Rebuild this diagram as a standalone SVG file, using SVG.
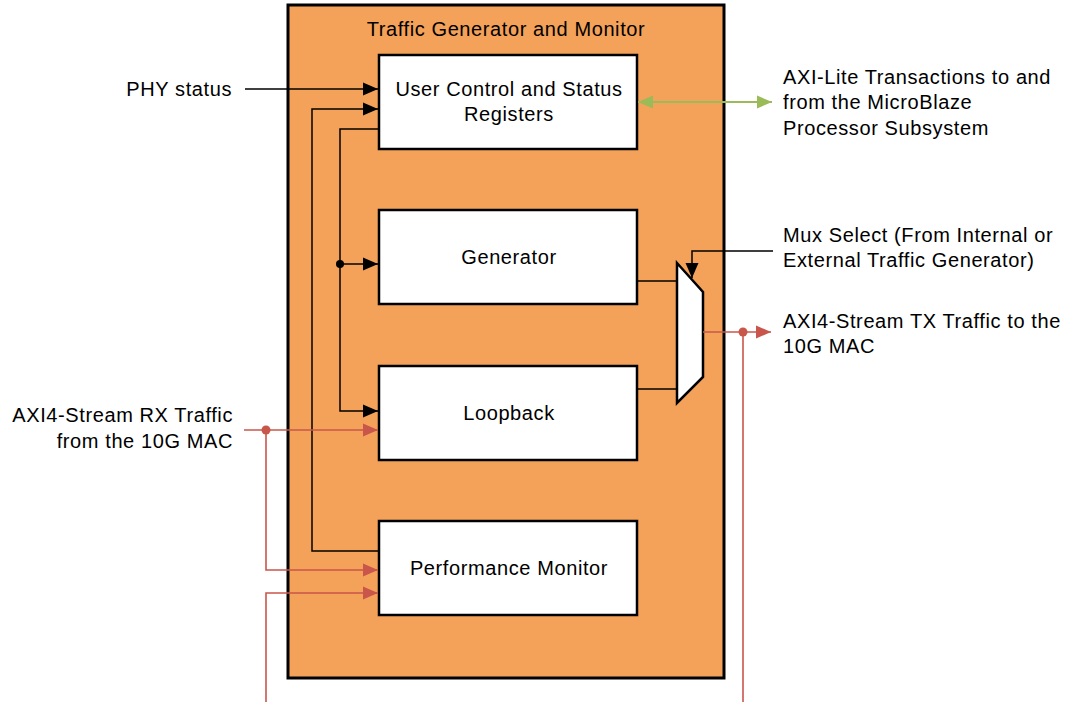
<svg xmlns="http://www.w3.org/2000/svg" width="1066" height="702" viewBox="0 0 1066 702">
<style>
text{font-family:"Liberation Sans",Arial,sans-serif;font-size:20px;letter-spacing:0.6px;fill:#000}
.box{fill:#fff;stroke:#000;stroke-width:2.5}
.blk{fill:none;stroke:#000;stroke-width:1.5}
.red{fill:none;stroke:#C9564B;stroke-width:1.6}
.grn{fill:none;stroke:#9BBB59;stroke-width:2}
.c{text-anchor:middle}
.r{text-anchor:end}
</style>
<defs>
<marker id="ab" markerUnits="userSpaceOnUse" markerWidth="16" markerHeight="14" refX="15" refY="7" orient="auto"><path d="M0,0.5 L15,7 L0,13.5 z" fill="#000"/></marker>
<marker id="ar" markerUnits="userSpaceOnUse" markerWidth="16" markerHeight="14" refX="15" refY="7" orient="auto"><path d="M0,0.5 L15,7 L0,13.5 z" fill="#C9564B"/></marker>
<marker id="ag" markerUnits="userSpaceOnUse" markerWidth="16" markerHeight="14" refX="15" refY="7" orient="auto-start-reverse"><path d="M0,0.5 L15,7 L0,13.5 z" fill="#9BBB59"/></marker>
</defs>
<g id="container">
<rect x="288" y="5" width="436" height="673" fill="#F4A259" stroke="#000" stroke-width="3"/>
<text class="c" x="506" y="36">Traffic Generator and Monitor</text>
</g>
<g id="ucsr">
<rect class="box" x="379" y="55" width="258" height="94"/>
<text class="c" x="509" y="96">User Control and Status</text>
<text class="c" x="509" y="121">Registers</text>
</g>
<g id="generator">
<rect class="box" x="379" y="210" width="258" height="94"/>
<text class="c" x="509" y="264">Generator</text>
</g>
<g id="loopback">
<rect class="box" x="379" y="366" width="258" height="94"/>
<text class="c" x="509" y="420">Loopback</text>
</g>
<g id="perfmon">
<rect class="box" x="379" y="521" width="258" height="94"/>
<text class="c" x="509" y="575">Performance Monitor</text>
</g>
<g id="mux">
<path d="M677,263 L703,292 L703,377 L677,403 z" fill="#fff" stroke="#000" stroke-width="2.5"/>
</g>
<g id="labels">
<text class="r" x="232" y="96">PHY status</text>
<text x="783" y="84">AXI-Lite Transactions to and</text>
<text x="783" y="109">from the MicroBlaze</text>
<text x="783" y="135">Processor Subsystem</text>
<text x="783" y="242">Mux Select (From Internal or</text>
<text x="783" y="267">External Traffic Generator)</text>
<text x="783" y="328">AXI4-Stream TX Traffic to the</text>
<text x="783" y="353">10G MAC</text>
<text class="r" x="233" y="422">AXI4-Stream RX Traffic</text>
<text class="r" x="233" y="448">from the 10G MAC</text>
</g>
<g id="connectors">
<path class="blk" d="M245,89 L378,89" marker-end="url(#ab)"/>
<path class="blk" d="M379,551 L312,551 L312,109 L378,109" marker-end="url(#ab)"/>
<path class="blk" d="M379,129 L340,129 L340,411 L378,411" marker-end="url(#ab)"/>
<path class="blk" d="M340,264 L378,264" marker-end="url(#ab)"/>
<circle cx="340" cy="264" r="4" fill="#000"/>
<path class="blk" d="M637,281 L677,281"/>
<path class="blk" d="M637,389 L677,389"/>
<path class="blk" d="M773,251 L692,251 L692,278" marker-end="url(#ab)"/>
<path class="grn" d="M638,102 L772,102" marker-start="url(#ag)" marker-end="url(#ag)"/>
<path class="red" d="M703,332 L771,332" marker-end="url(#ar)"/>
<path class="red" d="M743,332 L743,702"/>
<circle cx="743" cy="332" r="4.5" fill="#C9564B"/>
<path class="red" d="M244,430 L378,430" marker-end="url(#ar)"/>
<path class="red" d="M266,430 L266,570 L378,570" marker-end="url(#ar)"/>
<circle cx="266" cy="430" r="4.5" fill="#C9564B"/>
<path class="red" d="M266,702 L266,593 L378,593" marker-end="url(#ar)"/>
</g>
</svg>
